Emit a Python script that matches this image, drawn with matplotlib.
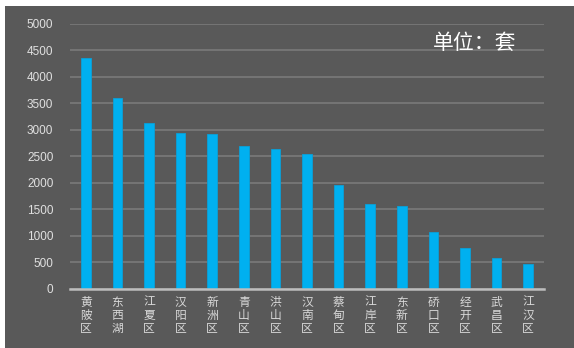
import matplotlib
matplotlib.use("Agg")
import matplotlib.pyplot as plt
from matplotlib.patches import Rectangle

categories = ["黄陂区", "东西湖", "江夏区", "汉阳区", "新洲区", "青山区", "洪山区", "汉南区",
              "蔡甸区", "江岸区", "东新区", "硚口区", "经开区", "武昌区", "江汉区"]
values = [4352, 3608, 3136, 2941, 2928, 2695, 2639, 2538, 1953, 1600, 1562, 1065, 763, 586, 466]
yticks = [0, 500, 1000, 1500, 2000, 2500, 3000, 3500, 4000, 4500, 5000]
unit_label = "单位：套"

plt.rcParams['font.family'] = ['Noto Sans CJK SC', 'DejaVu Sans']

W, H = 574, 348
fig = plt.figure(figsize=(W / 100, H / 100), dpi=100)
fig.patch.set_facecolor("white")
bg = "#595959"
rect = Rectangle((5 / W, 0), 1 - 5 / W, 1 - 6 / H, transform=fig.transFigure,
                 facecolor=bg, edgecolor="none", zorder=-10)
fig.add_artist(rect)

ax = fig.add_axes([70 / W, 1 - 288.7 / H, 474 / W, (288.7 - 24) / H])
ax.set_zorder(1)
ax.set_facecolor("none")
x = list(range(len(categories)))
ax.bar(x, values, width=0.3, color="#00B0F0", edgecolor="#0AA0D8", linewidth=0.6, zorder=3)
ax.set_xlim(-0.5, len(categories) - 0.5)
ax.set_ylim(0, 5000)
ax.set_yticks(yticks)
ax.set_yticklabels([str(v) for v in yticks], fontsize=8.5, color="#e0e0e0",
                   family=['Liberation Sans', 'DejaVu Sans'])
ax.set_xticks(x)
ax.set_xticklabels(["\n".join(c) for c in categories], fontsize=8.5, color="#d8d8d8",
                   linespacing=1.0, va="top")
ax.tick_params(axis="both", length=0)
ax.tick_params(axis="y", pad=12)
ax.tick_params(axis="x", pad=5)
ax.yaxis.grid(True, color="#787878", linewidth=1.3, zorder=1)
ax.set_axisbelow(True)
for s in ["top", "right", "left"]:
    ax.spines[s].set_visible(False)
ax.spines["bottom"].set_color("#bdbdbd")
ax.spines["bottom"].set_linewidth(1.8)
ax.spines["bottom"].set_zorder(4)

t = fig.text(475 / W, 1 - 43 / H, unit_label, fontsize=15, color="white", ha="center", va="center")
t.set_zorder(5)

fig.savefig("out.png", dpi=100, facecolor=fig.get_facecolor())
